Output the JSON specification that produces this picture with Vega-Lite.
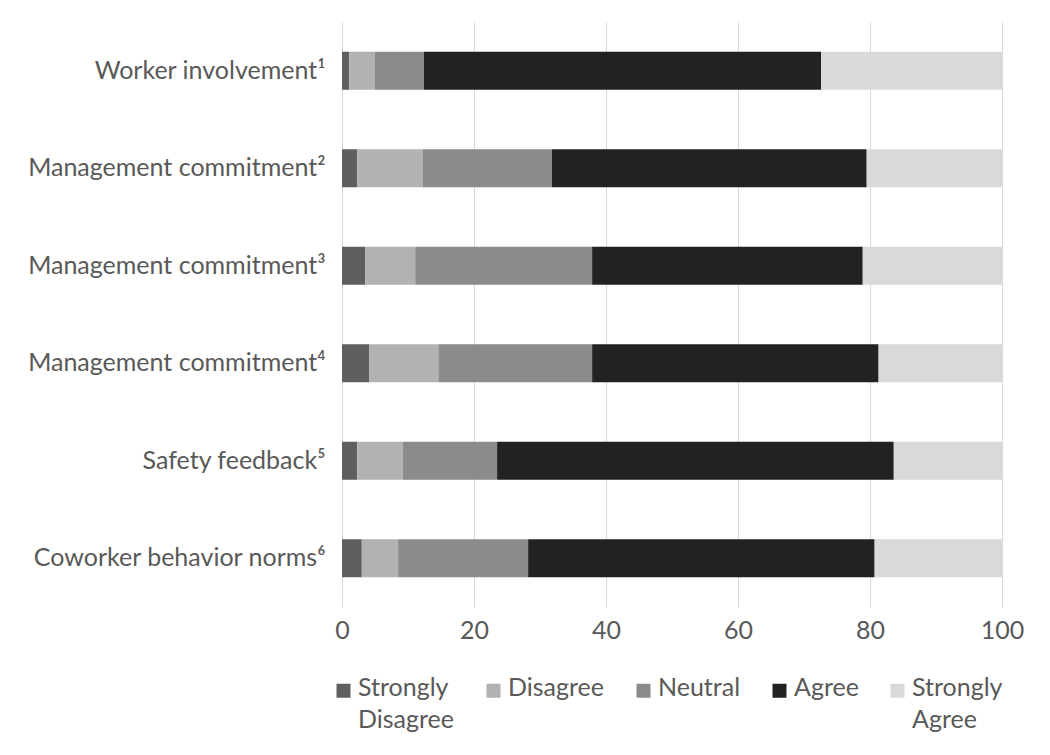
{
  "$schema": "https://vega.github.io/schema/vega-lite/v6.json",
  "autosize": "none",
  "width": 660,
  "height": 585,
  "padding": {"left": 342, "top": 22, "right": 48, "bottom": 148},
  "background": "white",
  "data": {"values": [
    {"cat": "Worker involvement¹", "resp": "Strongly Disagree", "k": 1, "v": 1.1},
    {"cat": "Worker involvement¹", "resp": "Disagree", "k": 2, "v": 3.9},
    {"cat": "Worker involvement¹", "resp": "Neutral", "k": 3, "v": 7.4},
    {"cat": "Worker involvement¹", "resp": "Agree", "k": 4, "v": 60.2},
    {"cat": "Worker involvement¹", "resp": "Strongly Agree", "k": 5, "v": 27.4},
    {"cat": "Management commitment²", "resp": "Strongly Disagree", "k": 1, "v": 2.3},
    {"cat": "Management commitment²", "resp": "Disagree", "k": 2, "v": 9.9},
    {"cat": "Management commitment²", "resp": "Neutral", "k": 3, "v": 19.6},
    {"cat": "Management commitment²", "resp": "Agree", "k": 4, "v": 47.7},
    {"cat": "Management commitment²", "resp": "Strongly Agree", "k": 5, "v": 20.5},
    {"cat": "Management commitment³", "resp": "Strongly Disagree", "k": 1, "v": 3.5},
    {"cat": "Management commitment³", "resp": "Disagree", "k": 2, "v": 7.6},
    {"cat": "Management commitment³", "resp": "Neutral", "k": 3, "v": 26.8},
    {"cat": "Management commitment³", "resp": "Agree", "k": 4, "v": 41.0},
    {"cat": "Management commitment³", "resp": "Strongly Agree", "k": 5, "v": 21.1},
    {"cat": "Management commitment⁴", "resp": "Strongly Disagree", "k": 1, "v": 4.1},
    {"cat": "Management commitment⁴", "resp": "Disagree", "k": 2, "v": 10.5},
    {"cat": "Management commitment⁴", "resp": "Neutral", "k": 3, "v": 23.3},
    {"cat": "Management commitment⁴", "resp": "Agree", "k": 4, "v": 43.4},
    {"cat": "Management commitment⁴", "resp": "Strongly Agree", "k": 5, "v": 18.7},
    {"cat": "Safety feedback⁵", "resp": "Strongly Disagree", "k": 1, "v": 2.3},
    {"cat": "Safety feedback⁵", "resp": "Disagree", "k": 2, "v": 6.9},
    {"cat": "Safety feedback⁵", "resp": "Neutral", "k": 3, "v": 14.3},
    {"cat": "Safety feedback⁵", "resp": "Agree", "k": 4, "v": 60.1},
    {"cat": "Safety feedback⁵", "resp": "Strongly Agree", "k": 5, "v": 16.4},
    {"cat": "Coworker behavior norms⁶", "resp": "Strongly Disagree", "k": 1, "v": 3.0},
    {"cat": "Coworker behavior norms⁶", "resp": "Disagree", "k": 2, "v": 5.5},
    {"cat": "Coworker behavior norms⁶", "resp": "Neutral", "k": 3, "v": 19.7},
    {"cat": "Coworker behavior norms⁶", "resp": "Agree", "k": 4, "v": 52.5},
    {"cat": "Coworker behavior norms⁶", "resp": "Strongly Agree", "k": 5, "v": 19.3}
  ]},
  "mark": {"type": "bar"},
  "encoding": {
    "y": {
      "field": "cat", "type": "nominal",
      "sort": ["Worker involvement¹", "Management commitment²", "Management commitment³", "Management commitment⁴", "Safety feedback⁵", "Coworker behavior norms⁶"],
      "scale": {"paddingInner": 0.61, "paddingOuter": 0.305},
      "axis": {"title": null, "domain": false, "ticks": false, "labelPadding": 17, "labelFontSize": 25, "labelColor": "#595959", "labelLimit": 400}
    },
    "x": {
      "field": "v", "type": "quantitative", "stack": "zero",
      "scale": {"domain": [0, 100], "nice": false},
      "axis": {"title": null, "values": [0, 20, 40, 60, 80, 100], "domain": false, "ticks": false, "labelFlush": false, "labelPadding": 11, "labelFontSize": 25, "labelColor": "#595959", "gridColor": "#d9d9d9", "gridWidth": 1}
    },
    "order": {"field": "k", "type": "quantitative"},
    "color": {
      "field": "resp", "type": "nominal",
      "scale": {
        "domain": ["Strongly Disagree", "Disagree", "Neutral", "Agree", "Strongly Agree"],
        "range": ["#5f5f5f", "#b2b2b2", "#8b8b8b", "#222222", "#d9d9d9"]
      },
      "legend": {
        "title": null, "orient": "none", "legendX": -11, "legendY": 656,
        "direction": "horizontal",
        "symbolType": "square", "symbolSize": 196, "symbolStrokeWidth": 0,
        "labelFontSize": 25, "labelColor": "#595959", "labelOffset": 2,
        "labelExpr": "[split(datum.label, ' ')[0], length(split(datum.label, ' ')) > 1 ? split(datum.label, ' ')[1] : '']",
        "labelBaseline": "top",
        "columnPadding": 26,
        "encode": {"labels": {"update": {"dy": {"value": -15}, "lineHeight": {"value": 32}}}}
      }
    }
  },
  "config": {
    "font": "Lato",
    "view": {"stroke": null}
  }
}
